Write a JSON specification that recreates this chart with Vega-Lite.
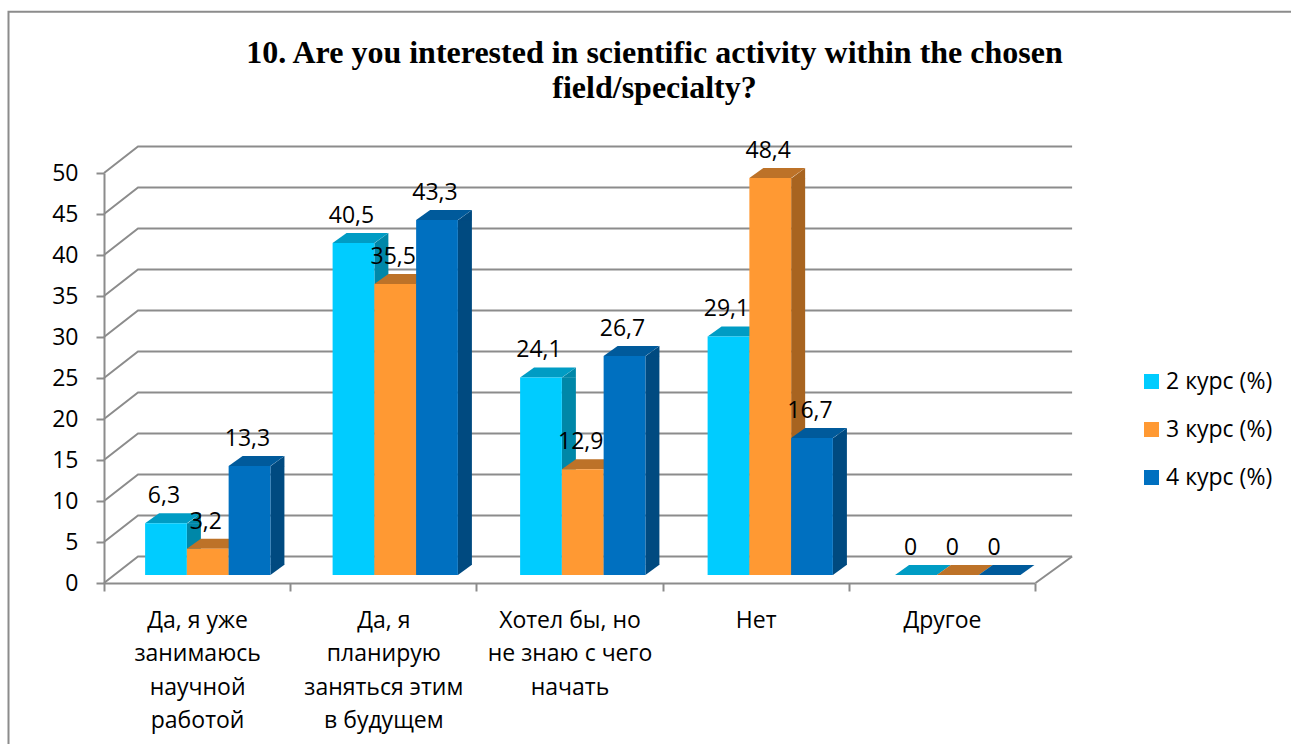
{
"$schema":"https://vega.github.io/schema/vega-lite/v6.json",
"width":931,"height":410,
"autosize":{"type":"none"},
"padding":{"left":104,"top":173,"right":256,"bottom":161},
"background":"white",
"title":{"text":["10. Are you interested in scientific activity within the chosen","field/specialty?"],"font":"Liberation Serif","fontSize":32,"fontWeight":"bold","color":"black","anchor":"middle","dx":85,"offset":-97,"lineHeight":35},
"config":{"view":{"stroke":null},"font":"Open Sans"},
"datasets":{
"answers":[
{"cat":"Да, я уже\nзанимаюсь\nнаучной\nработой","series":"2 курс (%)","value":6.3,"label":"6,3"},
{"cat":"Да, я уже\nзанимаюсь\nнаучной\nработой","series":"3 курс (%)","value":3.2,"label":"3,2"},
{"cat":"Да, я уже\nзанимаюсь\nнаучной\nработой","series":"4 курс (%)","value":13.3,"label":"13,3"},
{"cat":"Да, я\nпланирую\nзаняться этим\nв будущем","series":"2 курс (%)","value":40.5,"label":"40,5"},
{"cat":"Да, я\nпланирую\nзаняться этим\nв будущем","series":"3 курс (%)","value":35.5,"label":"35,5"},
{"cat":"Да, я\nпланирую\nзаняться этим\nв будущем","series":"4 курс (%)","value":43.3,"label":"43,3"},
{"cat":"Хотел бы, но\nне знаю с чего\nначать","series":"2 курс (%)","value":24.1,"label":"24,1"},
{"cat":"Хотел бы, но\nне знаю с чего\nначать","series":"3 курс (%)","value":12.9,"label":"12,9"},
{"cat":"Хотел бы, но\nне знаю с чего\nначать","series":"4 курс (%)","value":26.7,"label":"26,7"},
{"cat":"Нет","series":"2 курс (%)","value":29.1,"label":"29,1"},
{"cat":"Нет","series":"3 курс (%)","value":48.4,"label":"48,4"},
{"cat":"Нет","series":"4 курс (%)","value":16.7,"label":"16,7"},
{"cat":"Другое","series":"2 курс (%)","value":0,"label":"0"},
{"cat":"Другое","series":"3 курс (%)","value":0,"label":"0"},
{"cat":"Другое","series":"4 курс (%)","value":0,"label":"0"}
],
"ticks":[{"t":0},{"t":5},{"t":10},{"t":15},{"t":20},{"t":25},{"t":30},{"t":35},{"t":40},{"t":45},{"t":50}]
},
"resolve":{"scale":{"x":"independent","y":"independent","color":"independent"}},
"layer":[
{"layer":[
{"data":{"name":"ticks"},
 "mark":{"type":"point","shape":"M-93.1 0 L-59.1 -26.5 L875 -26.5","size":4,"filled":false,"stroke":"#8c8c8c","strokeWidth":2,"opacity":1},
 "encoding":{
  "x":{"datum":"Да, я уже\nзанимаюсь\nнаучной\nработой","type":"nominal","scale":{"domain":["Да, я уже\nзанимаюсь\nнаучной\nработой","Да, я\nпланирую\nзаняться этим\nв будущем","Хотел бы, но\nне знаю с чего\nначать","Нет","Другое"],"type":"band","padding":0},
   "axis":{"title":null,"labelAngle":0,"labelExpr":"split(datum.label,'\\n')","labelFont":"Open Sans","labelFontSize":23,"labelColor":"black","labelLineHeight":33.5,"labelPadding":29,"labelBaseline":"middle","labelLimit":0,"tickBand":"extent","tickSize":8,"tickWidth":2,"tickColor":"#8c8c8c","domainColor":"#8c8c8c","domainWidth":2,"grid":false,"labelOverlap":false}},
  "y":{"field":"t","type":"quantitative","scale":{"domain":[0,50],"nice":false},
   "axis":{"title":null,"values":[0,5,10,15,20,25,30,35,40,45,50],"labelFont":"Open Sans","labelFontSize":23,"labelColor":"black","labelPadding":18,"tickSize":8,"tickWidth":2,"tickColor":"#8c8c8c","domainColor":"#8c8c8c","domainWidth":2,"grid":false}}
 }},
{"data":{"values":[{"t":0}]},
 "mark":{"type":"point","shape":"M838.4 0 L875 -26.5 M-188.6 161 L-188.6 -571.3 L1094 -571.3","size":4,"filled":false,"stroke":"#8c8c8c","strokeWidth":2,"opacity":1},
 "encoding":{
  "x":{"datum":"Да, я уже\nзанимаюсь\nнаучной\nработой","type":"nominal"},
  "y":{"field":"t","type":"quantitative"}
 }}
]},
{"data":{"name":"answers"},
 "transform":[{"filter":"datum.value>0"}],
 "mark":{"type":"bar","width":14},
 "encoding":{
  "x":{"field":"cat","type":"nominal","sort":null,"scale":{"type":"band","padding":0,"range":[37.9,975.4],"domain":["Да, я уже\nзанимаюсь\nнаучной\nработой","Да, я\nпланирую\nзаняться этим\nв будущем","Хотел бы, но\nне знаю с чего\nначать","Нет","Другое"]},"axis":null},
  "xOffset":{"field":"series","type":"nominal","scale":{"paddingInner":0,"paddingOuter":0.745}},
  "y":{"field":"value","type":"quantitative","stack":null,"axis":null,"scale":{"domain":[0,50],"nice":false,"range":[402,-8]}},
  "y2":{"datum":1.22},
  "color":{"field":"series","type":"nominal","legend":null,"scale":{"range":["#0087A8","#A86420","#004A80"]}}
 }},
{"data":{"name":"answers"},
 "resolve":{"scale":{"color":"independent"}},
 "encoding":{
  "x":{"field":"cat","type":"nominal","sort":null,"scale":{"type":"band","padding":0,"range":[10,947.5],"domain":["Да, я уже\nзанимаюсь\nнаучной\nработой","Да, я\nпланирую\nзаняться этим\nв будущем","Хотел бы, но\nне знаю с чего\nначать","Нет","Другое"]},"axis":null},
  "xOffset":{"field":"series","type":"nominal","scale":{"paddingInner":0,"paddingOuter":0.745}},
  "y":{"field":"value","type":"quantitative","stack":null,"axis":null,"scale":{"domain":[0,50],"nice":false,"range":[402,-8]}}
 },
 "layer":[
  {"transform":[{"filter":"datum.value>0"}],
   "mark":{"type":"point","shape":"M20.9 0.3 L34.9 0.3 L34.9 -10 Z","size":4,"filled":true,"strokeWidth":0,"opacity":1},
   "encoding":{
    "color":{"field":"series","type":"nominal","legend":null,"scale":{"range":["#0087A8","#A86420","#004A80"]}}}},
  {"transform":[{"filter":"datum.value>0"}],
   "mark":{"type":"point","shape":"M20.9 0 L20.9 -10.3 L34.9 -10.3 Z","size":4,"filled":true,"strokeWidth":0,"opacity":1},
   "encoding":{"y":{"datum":0,"type":"quantitative"},
    "color":{"field":"series","type":"nominal","legend":null,"scale":{"range":["#0087A8","#A86420","#004A80"]}}}},
  {"mark":{"type":"point","shape":"M-20.9 0 L-6.9 -10 L34.9 -10 L20.9 0 Z","size":4,"filled":true,"strokeWidth":0,"opacity":1},
   "encoding":{
    "color":{"field":"series","type":"nominal","legend":null,"scale":{"range":["#009CC4","#BD7228","#005A9B"]}}}},
  {"mark":{"type":"bar"},
   "encoding":{
    "color":{"field":"series","type":"nominal","scale":{"range":["#00CCFF","#FF9933","#0070C0"]},
     "legend":{"title":null,"orient":"none","legendX":1036,"legendY":197,"symbolType":"square","symbolSize":225,"symbolStrokeWidth":0,"labelFont":"Open Sans","labelFontSize":23,"labelColor":"black","labelOffset":3,"rowPadding":24,"labelLimit":0}}}},
  {"transform":[{"filter":"datum.value>0"}],
   "mark":{"type":"text","font":"Open Sans","fontSize":23,"color":"black","dx":-2,"dy":-27,"baseline":"middle"},
   "encoding":{"text":{"field":"label"}}},
  {"transform":[{"filter":"datum.value==0"}],
   "mark":{"type":"text","font":"Open Sans","fontSize":23,"color":"black","dx":-5.5,"dy":-27,"baseline":"middle"},
   "encoding":{"text":{"field":"label"}}}
 ]}
]
}
